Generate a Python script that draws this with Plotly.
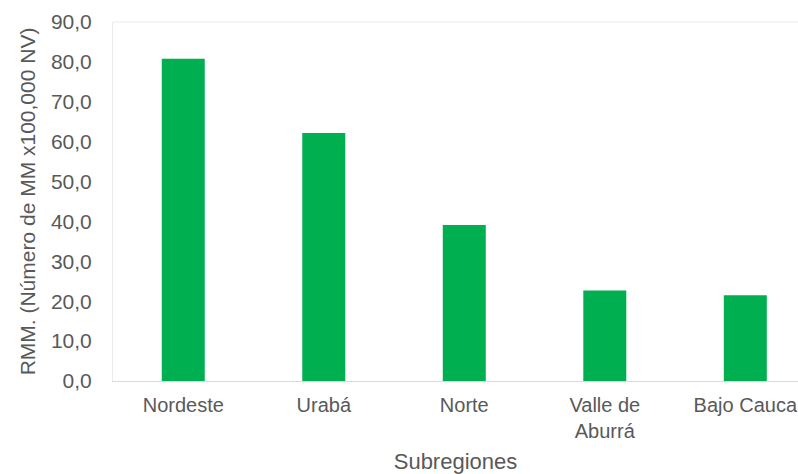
import plotly.graph_objects as go

# Subregions and maternal mortality ratio values
subregiones = ["Nordeste", "Urabá", "Norte", "Valle de<br>Aburrá", "Bajo Cauca"]
rmm = [80.8, 62.2, 39.1, 22.7, 21.5]

y_ticks = [0, 10, 20, 30, 40, 50, 60, 70, 80, 90]

GREEN = "#00B050"
TEXT = "#595959"
AXIS_LINE = "#D9D9D9"
FRAME_LINE = "#EBEBEB"
FONT = "Liberation Sans, Arial, sans-serif"

fig = go.Figure(
    go.Bar(
        x=list(range(len(subregiones))),
        y=rmm,
        width=0.306,
        marker=dict(color=GREEN, line=dict(width=0)),
        hoverinfo="skip",
    )
)

fig.update_layout(
    width=798,
    height=474,
    margin=dict(l=113, r=0, t=22, b=93),
    paper_bgcolor="white",
    plot_bgcolor="white",
    separators=",.",
    showlegend=False,
    font=dict(family=FONT, size=21, color=TEXT),
    shapes=[
        # light frame line along the top of the plot area
        dict(type="line", xref="paper", yref="paper", x0=0, x1=1, y0=1, y1=1,
             line=dict(color=FRAME_LINE, width=1), layer="below"),
    ],
)

fig.update_xaxes(
    range=[-0.5, 4.375],
    tickmode="array",
    tickvals=list(range(len(subregiones))),
    ticktext=subregiones,
    showgrid=False,
    zeroline=False,
    showline=True,
    linecolor=AXIS_LINE,
    linewidth=1,
    ticks="",
    ticklabelstandoff=6,
    ticklabeloverflow="allow",
    tickfont=dict(size=20, color=TEXT),
    title=dict(text="Subregiones", font=dict(size=22, color=TEXT), standoff=14),
    automargin=False,
)

fig.update_yaxes(
    range=[0, 90],
    tickmode="array",
    tickvals=y_ticks,
    tickformat=".1f",
    showgrid=False,
    zeroline=False,
    showline=True,
    linecolor=FRAME_LINE,
    linewidth=1,
    ticks="",
    ticklabelstandoff=16,
    tickfont=dict(size=21, color=TEXT),
    title=dict(text="RMM. (Número de MM x100,000 NV)", font=dict(size=21, color=TEXT), standoff=9),
    automargin=False,
)

fig.write_html("out.html")
